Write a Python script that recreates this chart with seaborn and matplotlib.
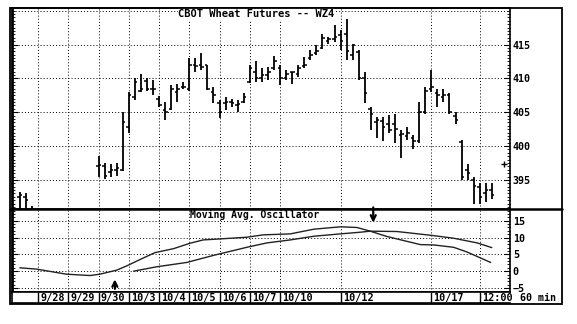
import numpy as np
import pandas as pd
import matplotlib
matplotlib.use("Agg")
import matplotlib.pyplot as plt
import seaborn as sns
from matplotlib.patches import Rectangle
from matplotlib.lines import Line2D
from matplotlib.ticker import MultipleLocator

sns.set_style("white")
plt.rcParams['font.family'] = ['DejaVu Sans Mono', 'DejaVu Sans']

# ---------------- data ----------------
title = "CBOT Wheat Futures -- WZ4"
osc_title = "Moving Avg. Oscillator"

bar_index = [-3, -2, -1,
             10, 11, 12, 13, 14,
             15, 16, 17, 18, 19,
             20, 21, 22, 23, 24,
             25, 26, 27, 28, 29,
             30, 31, 32, 33, 34,
             35, 36, 37, 38, 39,
             40, 41, 42, 43, 44, 45, 46, 47, 48, 49,
             50, 51, 52, 53, 54, 55, 56, 57, 58, 59, 60, 61, 62, 63, 64,
             65, 66, 67, 68, 69, 70, 71, 72,
             73, 74, 75]
opens = [392.5, 392.5, 390.5,
         397.0, 397.0, 396.2, 396.5, 396.5,
         402.8, 407.3, 408.2, 409.6, 408.5,
         407.0, 405.3, 405.5, 408.0, 408.7,
         408.5, 412.0, 412.0, 412.0, 408.0,
         406.3, 406.3, 406.5, 406.0, 406.5,
         409.5, 411.0, 410.0, 410.5, 411.5,
         411.5, 410.0, 411.0, 410.7, 411.8, 413.0, 413.8, 414.5, 415.5, 415.8,
         416.4, 416.5, 413.5, 413.9, 410.0, 405.5, 403.5, 403.7, 403.2, 403.3, 401.6, 401.5, 401.2, 400.8, 405.0,
         408.5, 407.8, 407.3, 407.5, 404.5, 400.6, 396.5, 395.0,
         394.0, 393.0, 393.5]
highs = [393.2, 393.0, 391.2,
         398.6, 397.5, 397.4, 397.5, 405.0,
         408.0, 410.0, 410.7, 410.1, 409.8,
         407.4, 406.5, 409.0, 409.2, 409.5,
         413.0, 413.0, 413.7, 412.0, 408.7,
         406.8, 407.3, 407.0, 406.8, 407.8,
         412.0, 412.5, 411.5, 411.7, 413.3,
         412.0, 411.2, 411.0, 412.0, 413.2, 414.2, 414.9, 416.6, 416.1, 417.9,
         417.1, 418.8, 415.1, 414.2, 411.0, 405.8, 404.3, 404.3, 404.6, 404.8, 402.3, 402.8, 401.6, 406.5, 408.7,
         411.2, 408.5, 408.5, 407.8, 405.0, 400.9, 397.4, 395.5,
         394.5, 394.5, 394.5]
lows = [389.0, 389.0, 389.0,
        395.4, 395.2, 395.4, 395.6, 396.3,
        402.0, 406.8, 408.0, 408.2, 407.5,
        405.7, 403.9, 405.3, 406.5, 408.5,
        408.2, 411.0, 411.2, 408.3, 406.3,
        404.1, 405.3, 405.8, 405.0, 406.3,
        409.3, 409.5, 409.5, 409.7, 411.3,
        409.0, 409.7, 409.2, 410.2, 411.5, 412.7, 413.4, 414.4, 415.1, 415.4,
        414.2, 412.7, 412.7, 409.7, 406.3, 402.3, 401.2, 400.8, 401.9, 400.5, 398.2, 400.9, 399.6, 400.5, 404.8,
        408.0, 405.8, 406.5, 404.8, 403.3, 395.0, 395.0, 391.5,
        391.5, 391.8, 392.2]
closes = [392.8, 392.0, 390.0,
          397.2, 395.6, 396.5, 396.8, 403.5,
          407.5, 409.5, 408.4, 408.5, 408.5,
          406.0, 405.0, 408.5, 408.5, 408.7,
          412.0, 411.8, 411.7, 408.5, 407.5,
          405.0, 406.5, 406.3, 406.2, 407.3,
          411.5, 410.0, 410.5, 411.0, 412.5,
          410.0, 410.7, 411.0, 411.5, 412.0, 413.4, 414.0, 415.9, 415.8, 416.1,
          415.5, 414.0, 414.9, 410.0, 407.8, 404.8, 403.8, 402.8, 402.3, 402.5, 401.8, 402.0, 400.8, 405.0, 408.2,
          408.8, 407.5, 407.5, 405.0, 403.8, 395.5, 396.0, 394.1,
          392.5, 393.5, 392.7]

fast_x = [-3.0, -0.2, 4.7, 8.6, 10.2, 13.0, 14.7, 16.9, 19.3, 22.4, 25.1, 27.3, 30.1,
          34.5, 37.2, 41.7, 45.6, 50.0, 52.7, 54.9, 57.7, 63.2, 65.4, 68.7, 70.9, 74.8]
fast_osc = [1.0, 0.6, -0.9, -1.3, -0.9, 0.3, 1.6, 3.5, 5.5, 6.7, 8.3, 9.3, 9.6,
            10.1, 10.8, 11.1, 12.5, 13.2, 13.0, 11.9, 10.3, 7.9, 7.8, 7.1, 5.7, 2.6]
slow_x = [15.8, 19.6, 24.6, 29.0, 34.5, 37.8, 41.7, 45.6, 50.0, 53.3, 54.9, 59.3,
          64.8, 68.7, 72.6, 75.0]
slow_osc = [0.0, 1.3, 2.6, 4.7, 7.1, 8.4, 9.3, 10.4, 11.1, 11.6, 11.9, 11.8,
            10.7, 9.8, 8.4, 7.0]

day_labels = ["9/28", "9/29", "9/30", "10/3", "10/4", "10/5", "10/6", "10/7",
              "10/10", "10/12", "10/17", "12:00"]
day_starts = [0, 5, 10, 15, 20, 25, 30, 35, 40, 50, 65, 73]
price_ticks = [395, 400, 405, 410, 415]
price_grid = [395, 400, 405, 410, 415, 420]
osc_ticks = [-5, 0, 5, 10, 15]
interval_label = "60 min"
buy_signal = (12.7, -6.1, -1.6)     # x, tail, tip
sell_signal = (55.4, 19.8, 13.6)
last_mark = (77.0, 397.3)

# ---------------- layout ----------------
W, H = 577, 324
fig = plt.figure(figsize=(W / 100, H / 100), dpi=100)
fig.patch.set_facecolor("white")

def box(l, t, r, b):
    return [l / W, 1 - b / H, (r - l) / W, (b - t) / H]

xlim = (-4.3, 78.0)
ax = fig.add_axes(box(12, 8, 510, 209))
ax_o = fig.add_axes(box(12, 209, 510, 292))
ax_l = fig.add_axes(box(12, 292, 510, 303))

fs = 7.2
bold = dict(fontweight="bold")

# ---------- price panel ----------
df = pd.DataFrame(dict(x=bar_index, o=opens, h=highs, l=lows, c=closes))
ax.set_xlim(*xlim)
ax.set_ylim(390.7, 420.4)
for g in price_grid:
    ax.axhline(g, color="black", lw=0.7, ls=(0, (1, 2.2)), zorder=1)
for d in day_starts:
    ax.axvline(d, color="black", lw=0.7, ls=(0, (1, 2.2)), zorder=1)
tick_w = 0.42
ax.vlines(df.x, df.l, df.h, color="black", lw=1.3, zorder=3)
ax.hlines(df.o, df.x - tick_w, df.x, color="black", lw=1.1, zorder=3)
ax.hlines(df.c, df.x, df.x + tick_w, color="black", lw=1.1, zorder=3)
ax.plot([last_mark[0]], [last_mark[1]], marker="+", color="black", ms=4, mew=1)

ax.set_xticks([])
ax.set_yticks(price_ticks)
ax.yaxis.set_minor_locator(MultipleLocator(0.5))
ax.tick_params(axis="y", which="both", left=True, right=True, labelleft=False,
               labelright=True, direction="in", colors="black", labelsize=fs, pad=2)
ax.tick_params(axis="y", which="major", length=4, width=0.8)
ax.tick_params(axis="y", which="minor", length=2, width=0.6)
for t in ax.get_yticklabels():
    t.set_fontweight("bold")
for s in ax.spines.values():
    s.set_color("black"); s.set_linewidth(1.2)
ax.spines["left"].set_linewidth(2.0)
ax.text(0.491, 0.97, title, transform=ax.transAxes, ha="center", va="center",
        fontsize=7.5, color="black", zorder=5,
        bbox=dict(facecolor="white", edgecolor="none", pad=0.5), **bold)

# ---------- oscillator panel ----------
ax_o.set_xlim(*xlim)
ax_o.set_ylim(-6.2, 18.5)
for g in osc_ticks:
    ax_o.axhline(g, color="black", lw=0.7, ls=(0, (1, 2.2)), zorder=1)
for d in day_starts:
    ax_o.axvline(d, color="black", lw=0.7, ls=(0, (1, 2.2)), zorder=1)
sns.lineplot(x=fast_x, y=fast_osc, ax=ax_o, color="#222222", lw=1.0, sort=False, zorder=3)
sns.lineplot(x=slow_x, y=slow_osc, ax=ax_o, color="#222222", lw=1.0, sort=False, zorder=3)
ax_o.set_xlabel(""); ax_o.set_ylabel("")
ax_o.set_xticks([])
ax_o.set_yticks(osc_ticks)
ax_o.yaxis.set_minor_locator(MultipleLocator(1))
ax_o.tick_params(axis="y", which="both", left=True, right=True, labelleft=False,
                 labelright=True, direction="in", colors="black", labelsize=fs, pad=2)
ax_o.tick_params(axis="y", which="major", length=4, width=0.8)
ax_o.tick_params(axis="y", which="minor", length=2, width=0.6)
for t in ax_o.get_yticklabels():
    t.set_fontweight("bold")
for s in ax_o.spines.values():
    s.set_color("black"); s.set_linewidth(1.2)
ax_o.spines["left"].set_linewidth(2.0)
ax_o.spines["top"].set_visible(False)
ax_o.text(0.488, 0.928, osc_title, transform=ax_o.transAxes, ha="center", va="center",
          fontsize=7, color="black", zorder=5,
          bbox=dict(facecolor="white", edgecolor="none", pad=0.3), **bold)
ax_o.annotate("", xy=(buy_signal[0], buy_signal[2]), xytext=(buy_signal[0], buy_signal[1]),
              arrowprops=dict(arrowstyle="->", lw=1.6, color="black", mutation_scale=9),
              annotation_clip=False, zorder=6)
ax_o.annotate("", xy=(sell_signal[0], sell_signal[2]), xytext=(sell_signal[0], sell_signal[1]),
              arrowprops=dict(arrowstyle="->", lw=1.6, color="black", mutation_scale=9),
              annotation_clip=False, zorder=6)

# ---------- date label row ----------
ax_l.set_xlim(*xlim)
ax_l.set_ylim(0, 1)
ax_l.set_xticks([]); ax_l.set_yticks([])
ax_l.vlines(day_starts, 0, 1, color="black", lw=1.0)
for d, lab in zip(day_starts, day_labels):
    ax_l.text(d + 0.35, 0.45, lab, ha="left", va="center", fontsize=7.3,
              color="black", **bold)
for s in ax_l.spines.values():
    s.set_color("black"); s.set_linewidth(1.2)
ax_l.spines["right"].set_visible(False)

fig.text(520 / W, 1 - 298 / H, interval_label, ha="left", va="center",
         fontsize=7.2, color="black", **bold)

# ---------- outer frame ----------
fig.patches.append(Rectangle((10 / W, 1 - 304 / H), (562 - 10) / W, (304 - 8) / H,
                             transform=fig.transFigure, fill=False, ec="black", lw=1.3))
fig.lines.append(Line2D([10 / W, 562 / W], [1 - 209 / H, 1 - 209 / H],
                        transform=fig.transFigure, color="black", lw=1.8))

fig.savefig("out.png", dpi=100, facecolor="white")
